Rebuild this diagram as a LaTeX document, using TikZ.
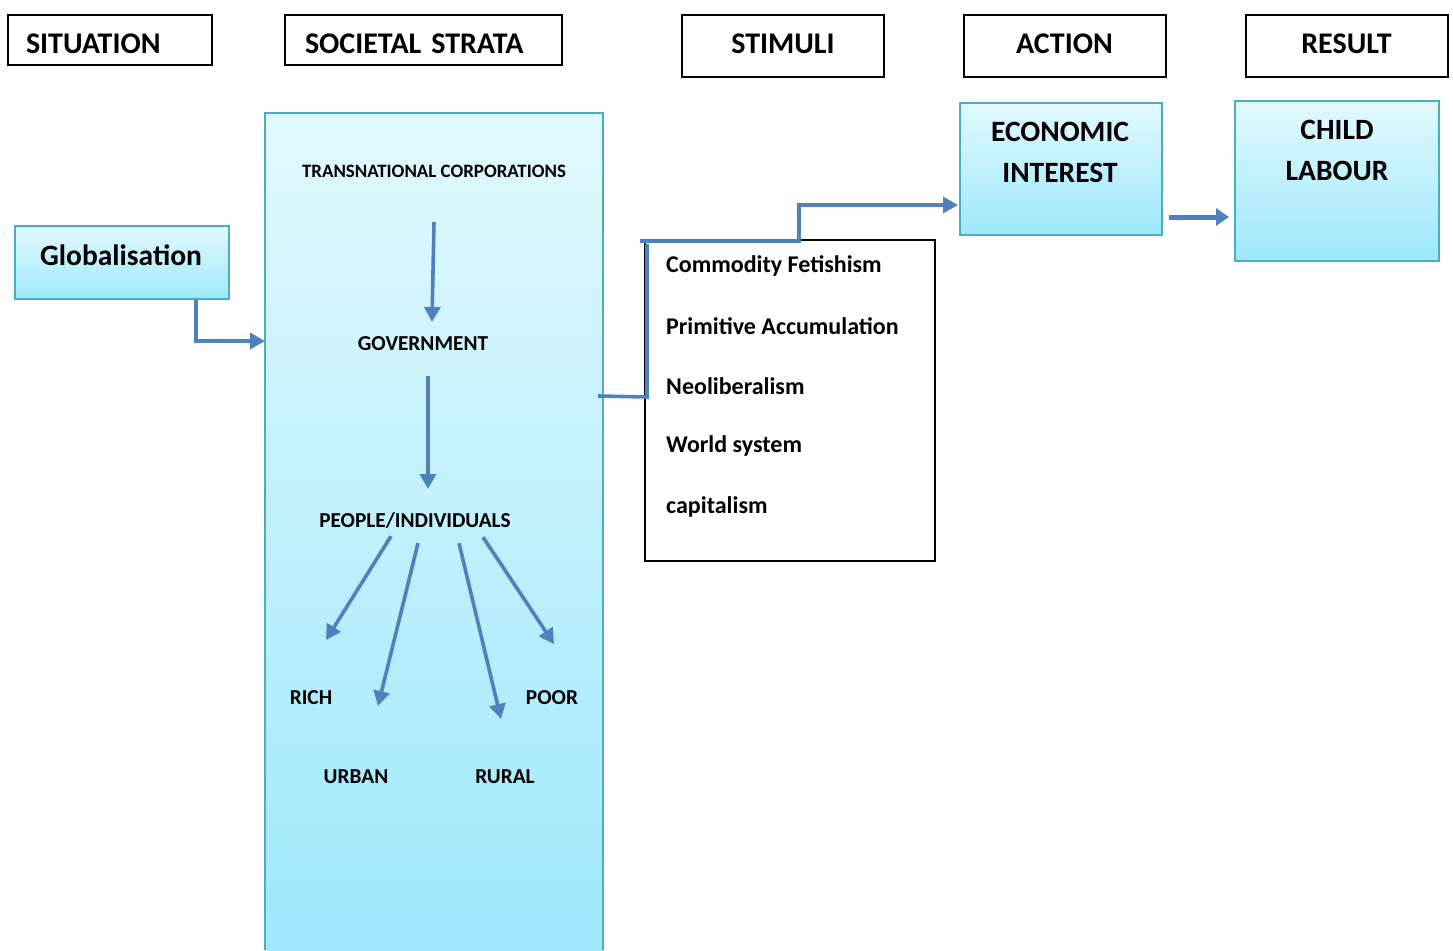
\documentclass[tikz,border=0pt]{standalone}
\usepackage{fontspec}
\setmainfont{Carlito}[BoldFont={Carlito Bold}]
\usetikzlibrary{arrows.meta}
\definecolor{boxedge}{HTML}{4BACC6}
\definecolor{toptint}{HTML}{E1F9FE}
\definecolor{bottint}{HTML}{9EE8FC}
\definecolor{arrowblue}{HTML}{4F81BD}
\tikzset{
  headbox/.style={draw=black, line width=2pt, minimum height=62pt, inner sep=0pt,
    font=\bfseries\fontsize{30}{36}\selectfont, text height=19pt, text depth=4pt},
  shadebox/.style={draw=boxedge, line width=2pt, top color=toptint, bottom color=bottint,
    inner sep=0pt},
  boxtext/.style={font=\bfseries\fontsize{29.5}{41}\selectfont, align=center, inner sep=0pt},
  tag/.style={font=\bfseries\fontsize{21.3}{24}\selectfont, inner sep=0pt},
  item/.style={font=\bfseries\fontsize{24}{28}\selectfont, inner sep=0pt, anchor=west},
  arr/.style={draw=arrowblue, line width=3.6pt, -{Triangle[length=15pt,width=16pt]}},
  link/.style={draw=arrowblue, line width=3.6pt},
}
\begin{document}
\begin{tikzpicture}[x=1pt,y=-1pt]
\useasboundingbox (0,0) rectangle (1453,950);

% column headings
\node[headbox, minimum width=204pt, minimum height=50pt, text width=168pt, align=left,
  text height=27pt, text depth=0pt] (hsit) at (110,40) {SITUATION};
\node[headbox, minimum width=277pt, minimum height=50pt, text width=237pt, align=left,
  text height=27pt, text depth=0pt] (hsoc) at (423.5,40) {SOCIETAL STRATA};
\node[headbox, minimum width=202pt] (hsti) at (783,46) {STIMULI};
\node[headbox, minimum width=202pt] (hact) at (1064.5,46) {ACTION};
\node[headbox, minimum width=202pt] (hres) at (1346.5,46) {RESULT};

% situation
\node[shadebox, minimum width=214pt, minimum height=73pt] (glob) at (122,262.5) {};
\node[boxtext] (globtext) at (121,255) {Globalisation};

% societal strata column (runs off the bottom of the page)
\shade[top color=toptint, bottom color=bottint] (265,113) rectangle (603,950);
\draw[boxedge, line width=2pt] (265,950) -- (265,113) -- (603,113) -- (603,950);
\coordinate (strata) at (603,396);
\coordinate (strataw) at (265,341);

\node[tag, font=\bfseries\fontsize{18.9}{22}\selectfont] (tnc) at (434,171) {TRANSNATIONAL CORPORATIONS};
\node[tag] (gov) at (423,344) {GOVERNMENT};
\node[tag] (people) at (415,521) {PEOPLE/INDIVIDUALS};
\node[tag] (rich) at (311,698) {RICH};
\node[tag] (poor) at (552,698) {POOR};
\node[tag] (urban) at (356,777) {URBAN};
\node[tag] (rural) at (505,777) {RURAL};

\coordinate (tncOut) at (434,222);
\coordinate (govIn) at (432,322);
\coordinate (govOut) at (428,376);
\coordinate (peopleIn) at (428,489);
\coordinate (toRich) at (326,640);
\coordinate (toUrban) at (378,706);
\coordinate (toRural) at (501,719);
\coordinate (toPoor) at (554,644);

\draw[arr] (tncOut) -- (govIn);
\draw[arr] (govOut) -- (peopleIn);
\draw[arr] ([xshift=-24pt,yshift=-7pt]people.south) -- (toRich);
\draw[arr] ([xshift=3pt,yshift=-14pt]people.south) -- (toUrban);
\draw[arr] ([xshift=44pt,yshift=-14pt]people.south) -- (toRural);
\draw[arr] ([xshift=68pt,yshift=-8pt]people.south) -- (toPoor);

% stimuli
\node[draw=black, line width=2pt, minimum width=290pt, minimum height=321pt] (stim) at (790,400.5) {};
\node[item] (s1) at (666,266) {Commodity Fetishism};
\node[item] (s2) at (666,326) {Primitive Accumulation};
\node[item] (s3) at (666,386) {Neoliberalism};
\node[item] (s4) at (666,446) {World system};
\node[item] (s5) at (666,507) {capitalism};

% action and result
\node[shadebox, minimum width=202pt, minimum height=132pt] (econ) at (1061,169) {};
\node[boxtext] (econtext) at (1060,152.5) {ECONOMIC\\INTEREST};
\node[shadebox, minimum width=204pt, minimum height=160pt] (child) at (1337,181) {};
\node[boxtext] (childtext) at (1337,150.5) {CHILD\\LABOUR};

% connectors
\draw[arr] ([xshift=74pt]glob.south) |- (strataw);
\draw[link] ([xshift=-5pt]strata) -- (647,397) -- (647,244);
\draw[arr] (640,241) -- (799,241) -- (799,205) -- ([xshift=-1pt,yshift=-36pt]econ.west);
\draw[draw=arrowblue, line width=5pt, -{Triangle[length=13pt,width=17pt]}]
  ([xshift=6pt,yshift=-48pt]econ.east) -- ([xshift=-5pt,yshift=-36pt]child.west);
\end{tikzpicture}
\end{document}
